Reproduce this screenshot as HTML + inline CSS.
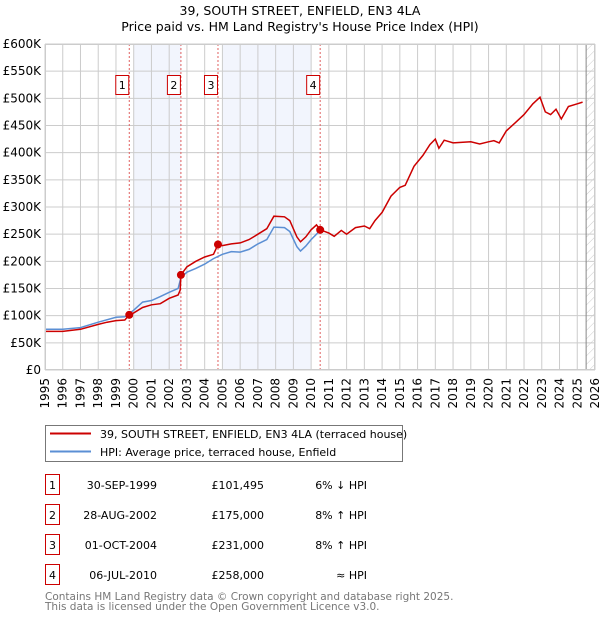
<!DOCTYPE html>
<html><head><meta charset="utf-8"><style>
body{margin:0;background:#fff;}
svg{display:block;font-family:"DejaVu Sans","Liberation Sans",sans-serif;}
</style></head><body>
<svg id="chart" width="600" height="620" xmlns="http://www.w3.org/2000/svg">
<defs><pattern id="hatch" width="6" height="6" patternUnits="userSpaceOnUse" patternTransform="rotate(45)"><line x1="0" y1="0" x2="0" y2="6" stroke="#ccc" stroke-width="1"/></pattern></defs>
<text x="300" y="15" text-anchor="middle" font-size="12.5">39, SOUTH STREET, ENFIELD, EN3 4LA</text>
<text x="300" y="31" text-anchor="middle" font-size="12.5">Price paid vs. HM Land Registry's House Price Index (HPI)</text>
<g id="plot"></g>
<g>
<rect x="45.5" y="425.5" width="357" height="36" fill="#fff" stroke="#777"/>
<line x1="50" y1="433.5" x2="91" y2="433.5" stroke="#cc0000" stroke-width="2"/>
<text x="100" y="438" font-size="11">39, SOUTH STREET, ENFIELD, EN3 4LA (terraced house)</text>
<line x1="50" y1="451.5" x2="91" y2="451.5" stroke="#5b8fd4" stroke-width="2"/>
<text x="100" y="456" font-size="11">HPI: Average price, terraced house, Enfield</text>
</g>
<g id="table" font-size="11"></g>
<text x="45" y="600" font-size="10.5" fill="#777">Contains HM Land Registry data © Crown copyright and database right 2025.</text>
<text x="45" y="610" font-size="10.5" fill="#777">This data is licensed under the Open Government Licence v3.0.</text>
</svg>
<script>
const yTicks=[0,50,100,150,200,250,300,350,400,450,500,550,600];
const yTickLabels=["£0","£50K","£100K","£150K","£200K","£250K","£300K","£350K","£400K","£450K","£500K","£550K","£600K"];
const years=[1995,1996,1997,1998,1999,2000,2001,2002,2003,2004,2005,2006,2007,2008,2009,2010,2011,2012,2013,2014,2015,2016,2017,2018,2019,2020,2021,2022,2023,2024,2025,2026];
const saleDates=[1999.75,2002.66,2004.75,2010.51];
const salePrices=[101.495,175,231,258];
const saleLabels=["1","2","3","4"];
const saleDateText=["30-SEP-1999","28-AUG-2002","01-OCT-2004","06-JUL-2010"];
const salePriceText=["£101,495","£175,000","£231,000","£258,000"];
const saleHpiText=["6% ↓ HPI","8% ↑ HPI","8% ↑ HPI","≈ HPI"];
const redT=[1995,1996,1997,1998,1998.5,1999,1999.5,1999.75,2000,2000.5,2001,2001.5,2002,2002.5,2002.62,2002.66,2003,2003.5,2004,2004.5,2004.75,2005,2005.5,2006,2006.5,2007,2007.5,2007.9,2008.5,2008.8,2009.2,2009.4,2009.7,2010,2010.3,2010.51,2011,2011.3,2011.7,2012,2012.5,2013,2013.3,2013.6,2014,2014.5,2015,2015.3,2015.8,2016.3,2016.7,2017,2017.2,2017.5,2018,2019,2019.5,2020,2020.3,2020.6,2021,2021.5,2022,2022.5,2022.9,2023.2,2023.5,2023.8,2024.1,2024.5,2025,2025.3];
const redV=[71,71,75,84,88,91,92,101.5,105,115,120,122,132,138,147,175,190,200,208,213,231,229,232,234,240,250,260,283,282,275,245,236,245,258,267,258,252,246,257,250,262,265,260,275,290,320,336,340,375,395,415,425,408,423,418,420,416,420,422,418,440,455,470,490,502,475,470,480,462,485,490,493];
const blueT=[1995,1996,1997,1998,1999,1999.5,2000,2000.5,2001,2001.5,2002,2002.5,2002.66,2003,2003.5,2004,2004.5,2005,2005.5,2006,2006.5,2007,2007.5,2007.9,2008.5,2008.8,2009.2,2009.4,2009.7,2010,2010.3,2010.51];
const blueV=[75,75,78,88,97,98,110,125,128,135,143,150,170,180,187,195,205,213,218,217,222,232,240,263,262,255,227,219,228,240,250,258];
const NS="http://www.w3.org/2000/svg";
const L=45,R=595,T=44,B=370;
const x=t=>L+(t-1995)/(2026-1995)*(R-L);
const y=v=>B-v/600*(B-T);
const plot=document.getElementById('plot');
function mk(tag,attrs,parent){const e=document.createElementNS(NS,tag);for(const k in attrs)e.setAttribute(k,attrs[k]);(parent||plot).appendChild(e);return e;}
mk('rect',{x:L,y:T,width:R-L,height:B-T,fill:'#fff'});
let s1=mk('rect',{x:x(2000),y:T,width:x(saleDates[1])-x(2000),height:B-T,fill:'#f2f5fd'});


let s2=mk('rect',{x:x(2005),y:T,width:x(2010)-x(2005),height:B-T,fill:'#f2f5fd'});


let hz=mk('rect',{x:x(2025.5),y:T,width:R-x(2025.5),height:B-T,fill:'url(#hatch)'});


yTicks.forEach((v,i)=>{
 mk('line',{x1:L,x2:R,y1:y(v),y2:y(v),stroke:'#ccc','stroke-width':1});
 const t=mk('text',{x:L-4,y:y(v)+4,'text-anchor':'end','font-size':12});
 t.textContent=yTickLabels[i];
 
 
});
years.forEach(yr=>{
 mk('line',{x1:x(yr),x2:x(yr),y1:T,y2:B,stroke:'#ccc','stroke-width':1});
 const t=mk('text',{x:0,y:0,'text-anchor':'end','font-size':12,transform:`translate(${x(yr)+4},${B+8}) rotate(-90)`});
 t.textContent=yr;
 
 
});
mk('line',{x1:x(2025.5),x2:x(2025.5),y1:T,y2:B,stroke:'#888','stroke-width':1});
saleDates.forEach((d,i)=>{
 mk('line',{x1:x(d),x2:x(d),y1:T,y2:B,stroke:'#e06060','stroke-width':1,'stroke-dasharray':'2,2'});
 const bx=mk('rect',{x:x(d)-13.5,y:75.5,width:13,height:19,fill:'#fff',stroke:'#cc0000'});
 
 
 const t=mk('text',{x:x(d)-7,y:89,'text-anchor':'middle','font-size':11});
 t.textContent=saleLabels[i];
});
const pts=(ts,vs)=>ts.map((t,i)=>x(t).toFixed(1)+','+y(vs[i]).toFixed(1)).join(' ');
let bl=mk('polyline',{points:pts(blueT,blueV),fill:'none',stroke:'#5b8fd4','stroke-width':1.5});


let rl=mk('polyline',{points:pts(redT,redV),fill:'none',stroke:'#cc0000','stroke-width':1.5});


saleDates.forEach((d,i)=>{
 const c=mk('circle',{cx:x(d),cy:y(salePrices[i]),r:4,fill:'#cc0000'});
 
 
});
mk('rect',{x:L+0.5,y:T+0.5,width:R-L-1,height:B-T-1,fill:'none',stroke:'#ccc'});
const tb=document.getElementById('table');
saleDates.forEach((d,i)=>{
 const cy=483+i*30;
 const b=mk('rect',{x:45.5,y:cy-8.5,width:14,height:20,fill:'#fff',stroke:'#cc0000'},tb);
 
 
 const a=mk('text',{x:52.5,y:cy+6,'text-anchor':'middle'},tb);a.textContent=saleLabels[i];
 const dt=mk('text',{x:157,y:cy+6,'text-anchor':'end'},tb);dt.textContent=saleDateText[i];
 
 
 const pr=mk('text',{x:264,y:cy+6,'text-anchor':'end'},tb);pr.textContent=salePriceText[i];
 
 
 const h=mk('text',{x:367,y:cy+6,'text-anchor':'end'},tb);h.textContent=saleHpiText[i];
 
 
});
</script>
</body></html>
